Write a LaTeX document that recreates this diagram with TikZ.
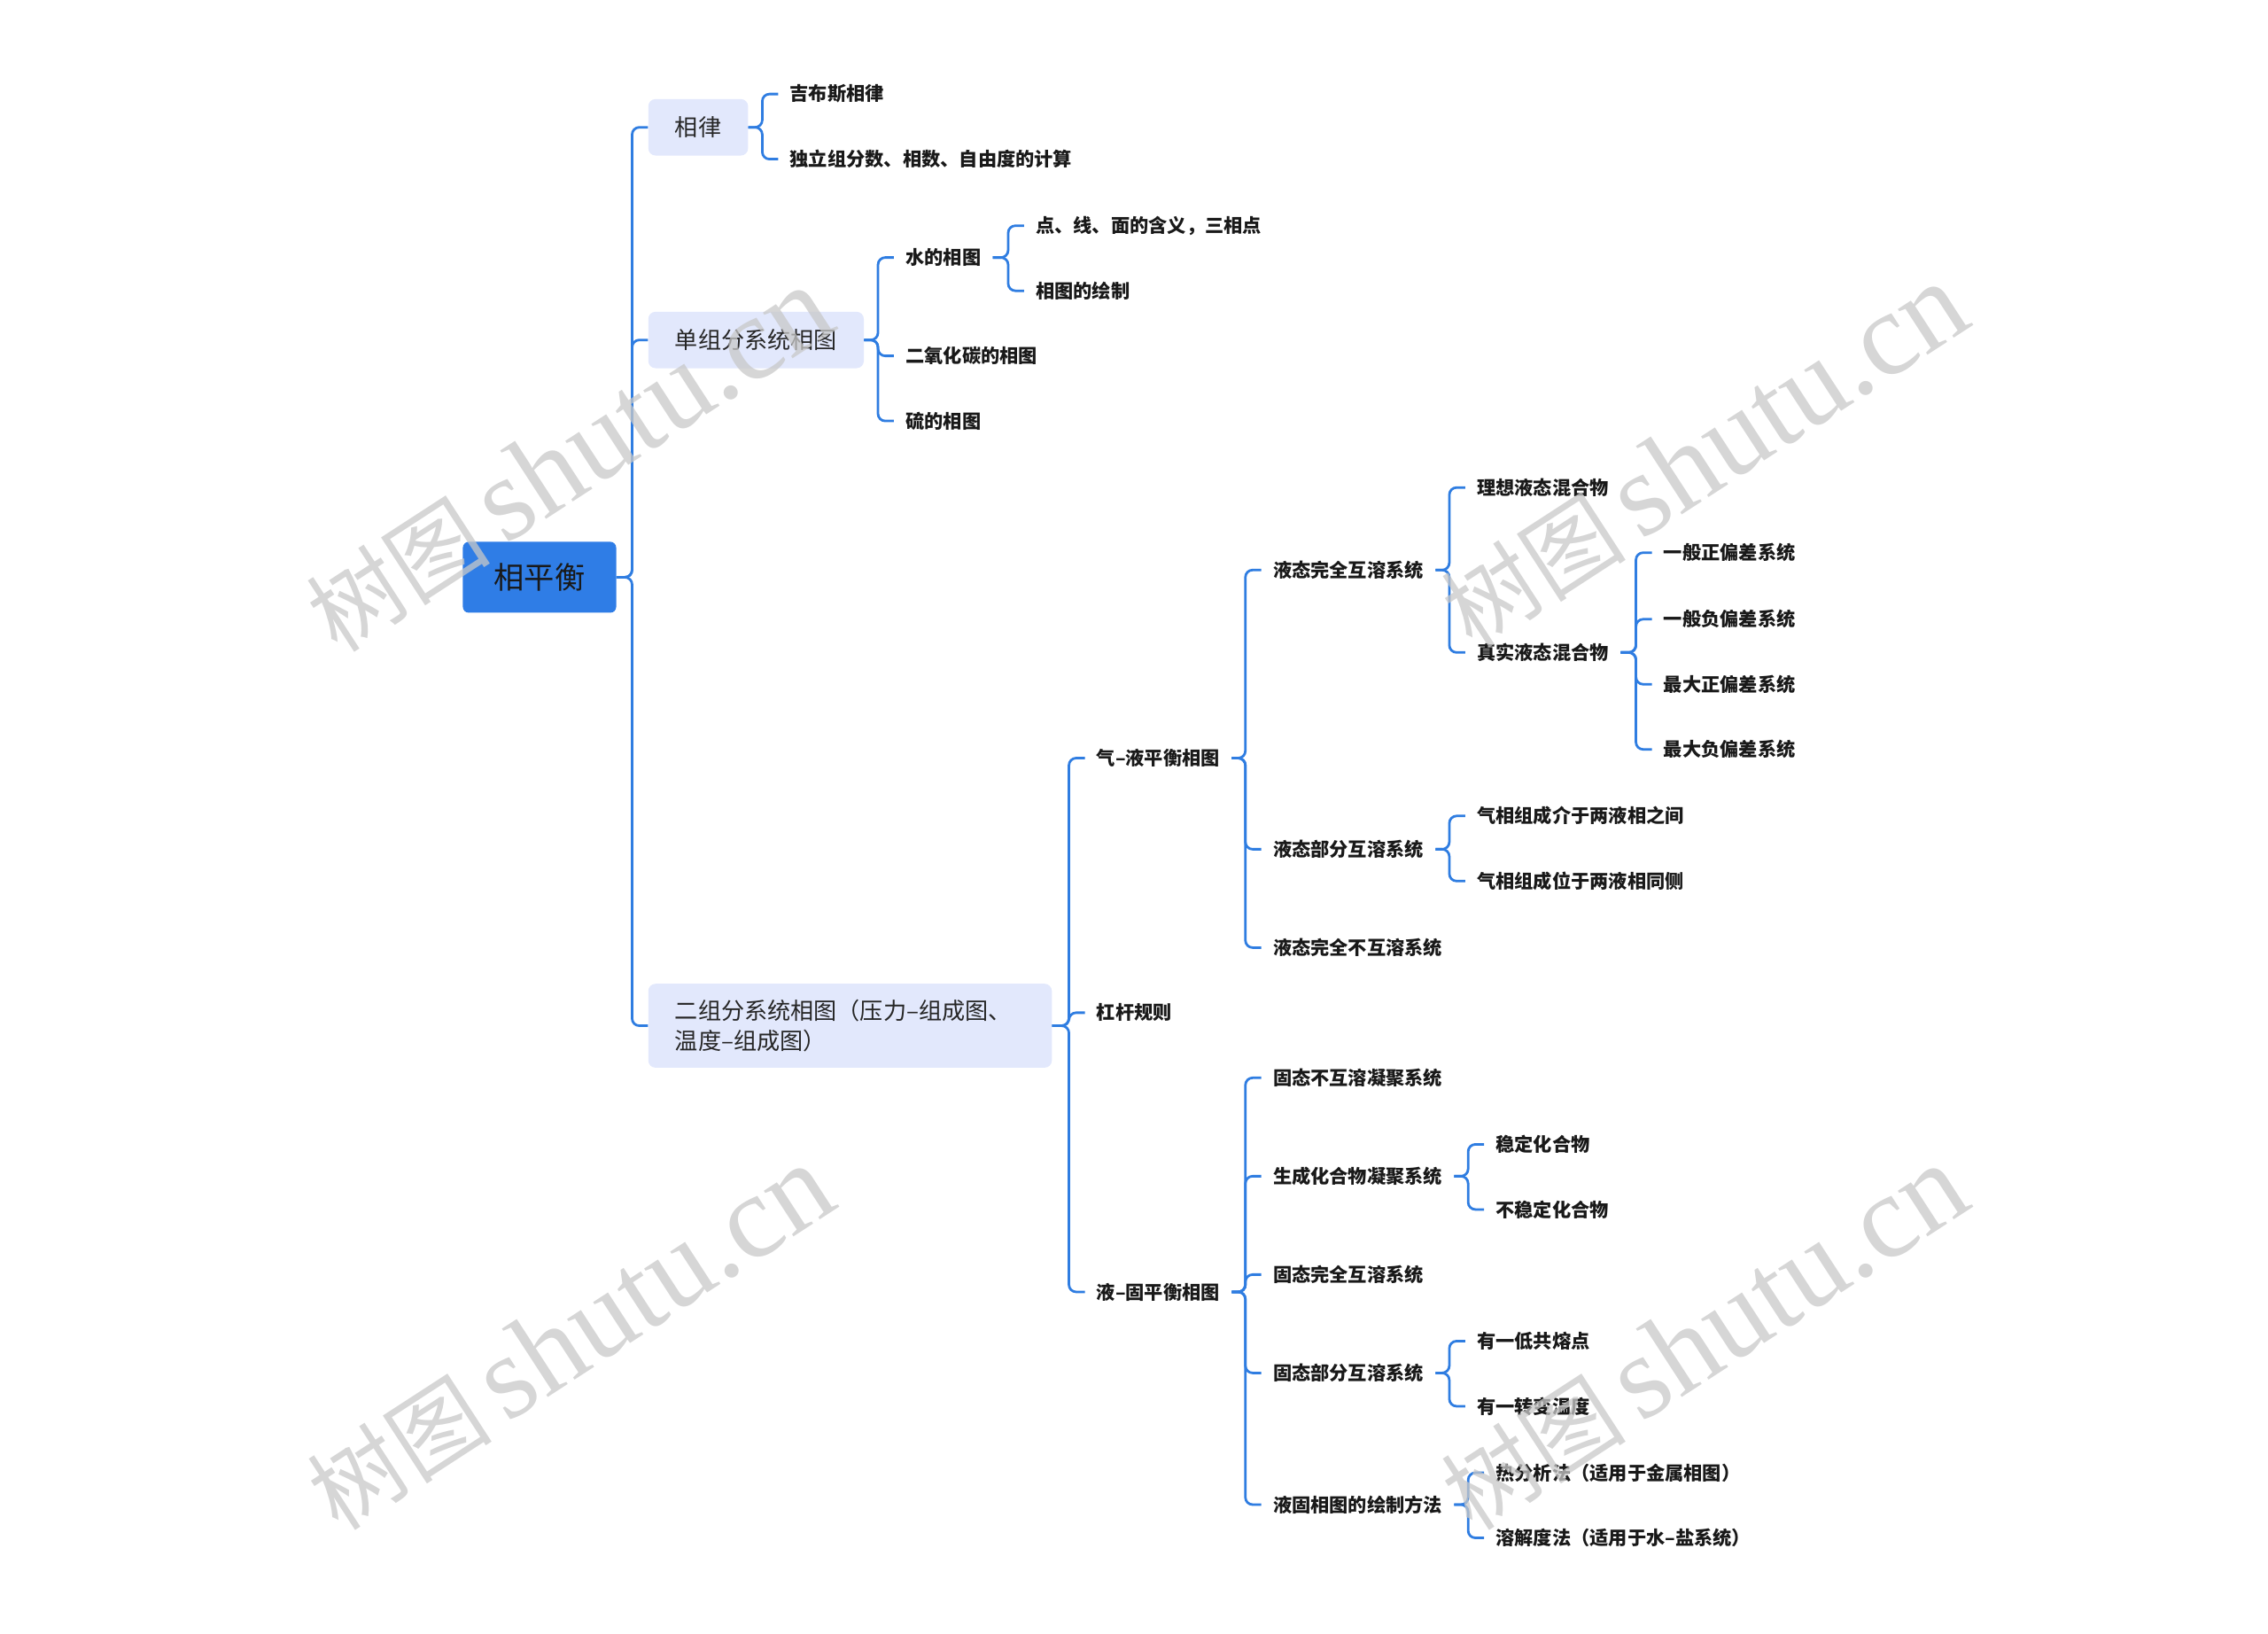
\documentclass[tikz,border=0pt]{standalone}
\usepackage{fontspec}
\setmainfont{Noto Sans CJK SC}
\newfontfamily\wmlatin{Liberation Serif}
\usetikzlibrary{positioning}
\definecolor{rootblue}{RGB}{47,125,230}
\definecolor{linkblue}{RGB}{47,125,225}
\definecolor{topicbg}{RGB}{226,232,252}
\definecolor{markgray}{RGB}{200,200,200}
\newcommand{\fsz}[1]{\fontsize{#1}{#1}\selectfont}
\newcommand{\linkkids}[2]{\foreach \kid in {#2}{\draw[link] (#1.east) -| ([xshift=-11pt]\kid.west) -- (\kid.west);}}

\begin{document}
\begin{tikzpicture}[x=1pt, y=-1pt,
  rootbox/.style={fill=rootblue, rounded corners=4pt, minimum width=106pt, minimum height=49pt, font=\fsz{21}, text=black!90},
  topic/.style={fill=topicbg, rounded corners=5pt, anchor=west, inner xsep=18.5pt, minimum height=39pt, font=\fsz{16}, text=black!85},
  leaf/.style={anchor=west, inner xsep=8pt, inner ysep=2pt, font=\bfseries\fsz{13}, text=black!90},
  link/.style={draw=linkblue, line width=1.7pt, rounded corners=5pt},
  wmark/.style={text=markgray, text opacity=0.75, rotate=33, inner sep=0pt}
]
  \useasboundingbox (0,0) rectangle (1568,1129);

  \node[rootbox] (root) at (373,399) {相平衡};

  \node[topic] (rule) at (448,88) {相律};
  \node[topic] (one) at (448,235) {单组分系统相图};
  \node[topic, text width=242pt, align=left, minimum height=58pt, inner ysep=6pt] (two) at (448,709)
    {二组分系统相图（压力–组成图、\\[5pt]温度–组成图）};

  \node[leaf] (gibbs) at (538,65) {吉布斯相律};
  \node[leaf] (count) at (538,110) {独立组分数、相数、自由度的计算};

  \node[leaf] (water) at (618,178) {水的相图};
  \node[leaf] (co2) at (618,246) {二氧化碳的相图};
  \node[leaf] (sulfur) at (618,291) {硫的相图};
  \node[leaf] (meaning) at (708,156) {点、线、面的含义，三相点};
  \node[leaf] (drawing) at (708,201) {相图的绘制};

  \node[leaf] (gasliq) at (750,524) {气–液平衡相图};
  \node[leaf] (lever) at (750,700) {杠杆规则};
  \node[leaf] (liqsol) at (750,893) {液–固平衡相图};

  \node[leaf] (fullmix) at (872,394) {液态完全互溶系统};
  \node[leaf] (partmix) at (872,587) {液态部分互溶系统};
  \node[leaf] (nomix) at (872,655) {液态完全不互溶系统};
  \node[leaf] (ideal) at (1013,337) {理想液态混合物};
  \node[leaf] (real) at (1013,451) {真实液态混合物};
  \node[leaf] (posdev) at (1142,382) {一般正偏差系统};
  \node[leaf] (negdev) at (1142,428) {一般负偏差系统};
  \node[leaf] (maxpos) at (1142,473) {最大正偏差系统};
  \node[leaf] (maxneg) at (1142,518) {最大负偏差系统};
  \node[leaf] (between) at (1013,564) {气相组成介于两液相之间};
  \node[leaf] (sameside) at (1013,609) {气相组成位于两液相同侧};

  \node[leaf] (solnomix) at (872,745) {固态不互溶凝聚系统};
  \node[leaf] (compound) at (872,813) {生成化合物凝聚系统};
  \node[leaf] (solfull) at (872,881) {固态完全互溶系统};
  \node[leaf] (solpart) at (872,949) {固态部分互溶系统};
  \node[leaf] (method) at (872,1040) {液固相图的绘制方法};
  \node[leaf] (stable) at (1026,791) {稳定化合物};
  \node[leaf] (unstable) at (1026,836) {不稳定化合物};
  \node[leaf] (eutectic) at (1013,927) {有一低共熔点};
  \node[leaf] (transit) at (1013,972) {有一转变温度};
  \node[leaf] (thermal) at (1026,1018) {热分析法（适用于金属相图）};
  \node[leaf] (solub) at (1026,1063) {溶解度法（适用于水–盐系统）};

  \linkkids{root}{rule,one,two}
  \linkkids{rule}{gibbs,count}
  \linkkids{one}{water,co2,sulfur}
  \linkkids{water}{meaning,drawing}
  \linkkids{two}{gasliq,lever,liqsol}
  \linkkids{gasliq}{fullmix,partmix,nomix}
  \linkkids{fullmix}{ideal,real}
  \linkkids{real}{posdev,negdev,maxpos,maxneg}
  \linkkids{partmix}{between,sameside}
  \linkkids{liqsol}{solnomix,compound,solfull,solpart,method}
  \linkkids{compound}{stable,unstable}
  \linkkids{solpart}{eutectic,transit}
  \linkkids{method}{thermal,solub}

  % watermark
  \foreach \wx/\wy [count=\i] in {393/318, 1178/315, 394/925, 1178/925}
    \node[wmark] (wm\i) at (\wx,\wy) {\fsz{64}树图\,{\wmlatin\fsz{82}shutu.cn}};
\end{tikzpicture}
\end{document}
